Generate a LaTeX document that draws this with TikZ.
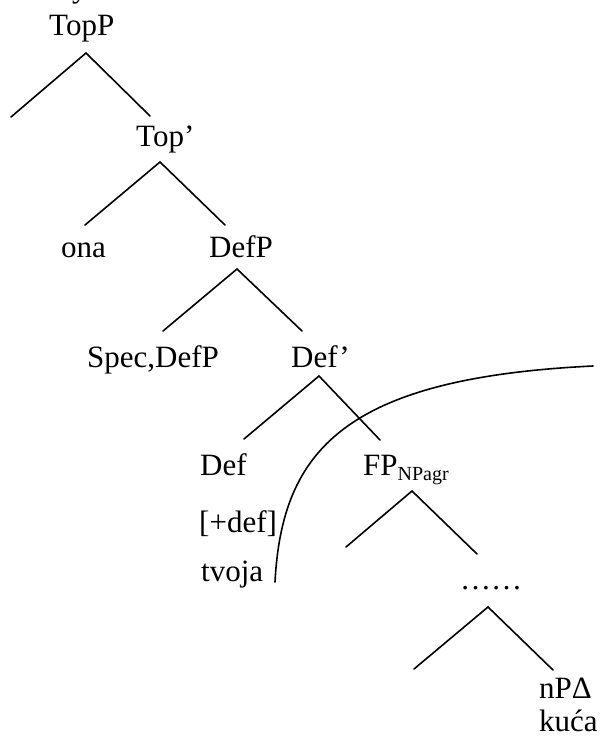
\documentclass[tikz,border=0pt]{standalone}
\usepackage{fontspec}
\setmainfont{Liberation Serif}
\usepackage{tikz}

\tikzset{
  lbl/.style={font=\fontsize{31}{36}\selectfont, inner sep=0pt, anchor=base west},
  branch/.style={line width=1.6pt, line cap=round},
}

\begin{document}
\begin{tikzpicture}[x=1pt, y=-1pt]

  % --- page frame (cuts the stray line above the tree) ---
  \clip (0,0) rectangle (603,736);

  % --- labels, placed by their baselines ---
  \node[lbl] (prev)   at (72,-2)   {y};
  \node[lbl] (topp)   at (49,35)   {TopP};
  \node[lbl] (topbar) at (136,146) {Top’};
  \node[lbl] (ona)    at (61,257)  {ona};
  \node[lbl] (defp)   at (209,257) {DefP};
  \node[lbl] (spec)   at (87,367)  {Spec,DefP};
  \node[lbl] (defbar) at (291,367) {Def’};
  \node[lbl] (def)    at (200,475) {Def};
  \node[lbl] (plusdef) at (199,532) {[+def]};
  \node[lbl] (tvoja)  at (201,581) {tvoja};
  \node[lbl] (fp)     at (363,475)
    {FP\raisebox{-5pt}{\fontsize{20}{22}\selectfont NPagr}};
  \node[lbl] (dots)   at (460,589) {……};
  \node[lbl] (np)     at (539,698) {nPΔ};
  \node[lbl] (kuca)   at (539,731) {kuća};

  % --- branching points: apex, left end, right end ---
  \coordinate (topp-a) at (86,53);    \coordinate (topp-l) at (11,117);   \coordinate (topp-r) at (150,116);
  \coordinate (top-a)  at (160,162);  \coordinate (top-l)  at (85,225);   \coordinate (top-r)  at (225,225);
  \coordinate (defp-a) at (237,269);  \coordinate (defp-l) at (163,331);  \coordinate (defp-r) at (302,331);
  \coordinate (defb-a) at (319,376);  \coordinate (defb-l) at (244,439);  \coordinate (defb-r) at (380,440);
  \coordinate (fp-a)   at (412,491);  \coordinate (fp-l)   at (346,547);  \coordinate (fp-r)   at (477,554);
  \coordinate (dots-a) at (488,607);  \coordinate (dots-l) at (414,669);  \coordinate (dots-r) at (553,670);

  % --- tree branches ---
  \foreach \n in {topp,top,defp,defb,fp,dots}{
    \draw[branch] (\n-l) -- (\n-a) -- (\n-r);
  }

  % --- movement curve from tvoja up to the right ---
  \coordinate (cv-s) at (275,582);
  \coordinate (cv-e) at (593,366);
  \draw[branch] (cv-s) .. controls (282,450) and (345,378) .. (cv-e);

\end{tikzpicture}
\end{document}
